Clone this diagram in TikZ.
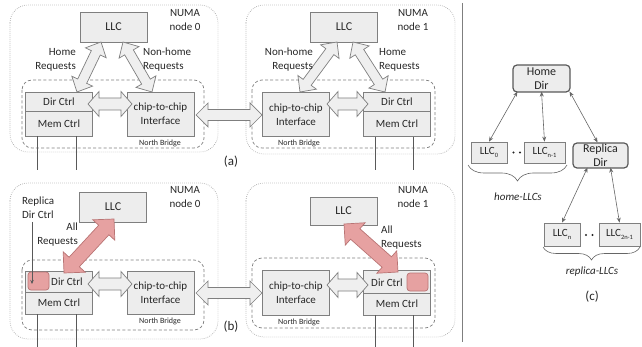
\documentclass[tikz,border=0pt]{standalone}
\usepackage{fontspec}
\setmainfont{Carlito}
\usetikzlibrary{calc,arrows.meta,decorations.pathreplacing}
\definecolor{txtc}{HTML}{262626}
\definecolor{boxfill}{HTML}{EDEDED}
\definecolor{boxdraw}{HTML}{7F7F7F}
\definecolor{arrfill}{HTML}{EFEFEF}
\definecolor{dotc}{HTML}{A6A6A6}
\definecolor{dashc}{HTML}{7F7F7F}
\definecolor{pinkfill}{HTML}{E6A1A1}
\definecolor{pinkdraw}{HTML}{B97474}
\definecolor{vlinec}{HTML}{595959}
\definecolor{carrc}{HTML}{666666}
\definecolor{dirdraw}{HTML}{595959}
\newcommand{\dblarrow}[6]{%
  \coordinate (tmpP) at ($#2!#6!#3$);
  \coordinate (tmpQ) at ($#3!#6!#2$);
  \draw[#1] #2 -- ($(tmpP)!#5!90:#3$) -- ($(tmpP)!#4!90:#3$) -- ($(tmpQ)!#4!-90:#2$) -- ($(tmpQ)!#5!-90:#2$) -- #3 -- ($(tmpQ)!#5!90:#2$) -- ($(tmpQ)!#4!90:#2$) -- ($(tmpP)!#4!-90:#3$) -- ($(tmpP)!#5!-90:#3$) -- cycle;
}
\newcommand{\lsub}[1]{\raisebox{-0.55ex}{\fontsize{6.5}{6.5}\selectfont #1}}
\tikzset{
  txt/.style={font=\fontsize{11}{14}\selectfont, text=txtc, inner sep=0pt},
  box/.style={draw=boxdraw, fill=boxfill, line width=0.7pt, inner sep=0pt, font=\fontsize{11}{14}\selectfont, text=txtc, align=center},
  llcbox/.style={box, minimum width=67pt, font=\fontsize{12}{14}\selectfont},
  dirbox/.style={box, minimum width=67pt, minimum height=19pt},
  membox/.style={box, minimum width=67pt, minimum height=25pt},
  chipbox/.style={box, minimum width=67pt, minimum height=44pt},
  outerbox/.style={draw=dotc, line width=0.7pt, dash pattern=on 0.7pt off 1.3pt, rounded corners=18pt},
  nbbox/.style={draw=dashc, line width=0.7pt, dash pattern=on 3pt off 2.2pt, rounded corners=10pt},
  hollow/.style={draw=boxdraw, fill=arrfill, line width=0.7pt, line join=miter},
  pinkarr/.style={draw=pinkdraw, fill=pinkfill, line width=0.7pt, line join=miter},
  pinksq/.style={draw=pinkdraw, fill=pinkfill, line width=0.7pt, rounded corners=3pt, minimum width=21pt, minimum height=18pt, inner sep=0pt},
  vline/.style={draw=vlinec, line width=0.7pt},
  nb/.style={font=\fontsize{8}{9}\selectfont, text=txtc, inner sep=0pt},
  numa/.style={txt, align=center},
  panel/.style={font=\fontsize{13}{15}\selectfont, text=txtc, inner sep=0pt},
  cllc/.style={box, minimum height=21pt, font=\fontsize{11}{12}\selectfont},
  cdir/.style={box, draw=dirdraw, line width=1.2pt, rounded corners=4pt, font=\fontsize{12}{14}\selectfont},
  carrow/.style={draw=carrc, line width=0.6pt, {Stealth[length=5pt,width=4pt]}-{Stealth[length=5pt,width=4pt]}},
  thinarrow/.style={draw=vlinec, line width=0.6pt, -{Stealth[length=4pt,width=3.5pt]}},
  bracestyle/.style={draw=carrc, line width=0.6pt, decorate},
}
\begin{document}
\begin{tikzpicture}[x=1pt,y=-1pt]
\useasboundingbox (0,0) rectangle (642,347);

% ---------- panel (a) ----------
\draw[outerbox] (10,5) rectangle (218,152);
\draw[outerbox] (246,5) rectangle (455,154);
\draw[nbbox] (22,80) rectangle (204,148);
\draw[nbbox] (252,80) rectangle (435,148);

\node[llcbox, minimum height=30pt] (a0llc) at (113.5,27) {LLC};
\node[llcbox, minimum height=30pt] (a1llc) at (344,27) {LLC};
\node[numa] (a0numa) at (185,20) {NUMA\\node 0};
\node[numa] (a1numa) at (413,20) {NUMA\\node 1};

\node[dirbox] (a0dir) at (59,101.5) {Dir Ctrl};
\node[membox] (a0mem) at (59,123.5) {Mem Ctrl};
\node[chipbox] (a0chip) at (160.5,114) {chip-to-chip\\Interface};
\node[chipbox] (a1chip) at (296,114.5) {chip-to-chip\\Interface};
\node[dirbox] (a1dir) at (397,102) {Dir Ctrl};
\node[membox] (a1mem) at (397,124) {Mem Ctrl};
\node[nb] (a0nb) at (160,143) {North Bridge};
\node[nb] (a1nb) at (299,143) {North Bridge};

\draw[vline] ([xshift=-22pt]a0mem.south) -- ++(0,34);
\draw[vline] ([xshift=17pt]a0mem.south) -- ++(0,34);
\draw[vline] ([xshift=-22pt]a1mem.south) -- ++(0,33);
\draw[vline] ([xshift=16pt]a1mem.south) -- ++(0,33);

\coordinate (a0hA) at (101,42);  \coordinate (a0hB) at (77,92);
\coordinate (a0nA) at (123,42);  \coordinate (a0nB) at (152,92);
\coordinate (a0iA) at (88,104);  \coordinate (a0iB) at (132,104);
\coordinate (aXA) at (196,115);  \coordinate (aXB) at (262,115);
\coordinate (a1nA) at (337,42);  \coordinate (a1nB) at (300,92);
\coordinate (a1hA) at (353,42);  \coordinate (a1hB) at (385,92);
\coordinate (a1iA) at (327,104); \coordinate (a1iB) at (368,104);
\dblarrow{hollow}{(a0hA)}{(a0hB)}{5pt}{11.5pt}{12pt}
\dblarrow{hollow}{(a0nA)}{(a0nB)}{5pt}{11.5pt}{12pt}
\dblarrow{hollow}{(a0iA)}{(a0iB)}{6pt}{12.5pt}{11pt}
\dblarrow{hollow}{(aXA)}{(aXB)}{5.5pt}{12pt}{12pt}
\dblarrow{hollow}{(a1nA)}{(a1nB)}{5pt}{11.5pt}{12pt}
\dblarrow{hollow}{(a1hA)}{(a1hB)}{5pt}{11.5pt}{12pt}
\dblarrow{hollow}{(a1iA)}{(a1iB)}{6pt}{12.5pt}{11pt}

\node[txt, anchor=east, align=right] (a0hl) at (76,60) {Home\\Requests};
\node[txt, anchor=west, align=left] (a0nl) at (143,60) {Non-home\\Requests};
\node[txt, anchor=east, align=right] (a1nl) at (313,60) {Non-home\\Requests};
\node[txt, anchor=west, align=left] (a1hl) at (379,60) {Home\\Requests};
\node[panel] (alab) at (231,162) {(a)};

% ---------- panel (b) ----------
\draw[outerbox] (10,183) rectangle (218,339);
\draw[outerbox] (246,183) rectangle (455,337);
\draw[nbbox] (22,260) rectangle (204,330);
\draw[nbbox] (252,258) rectangle (435,328);

\node[llcbox, minimum height=30pt] (b0llc) at (113,207) {LLC};
\node[llcbox, minimum height=28pt] (b1llc) at (343.5,211) {LLC};
\node[numa] (b0numa) at (185,197.5) {NUMA\\node 0};
\node[numa] (b1numa) at (413,197.5) {NUMA\\node 1};

\node[dirbox, minimum height=21pt] (b0dir) at (59,281.5) {};
\node[txt] (b0dirt) at (67,282) {Dir Ctrl};
\node[membox, minimum height=22pt] (b0mem) at (59,303) {Mem Ctrl};
\node[pinksq] (b0rep) at (38.5,281) {};
\node[chipbox, minimum height=43pt] (b0chip) at (160.5,292.5) {chip-to-chip\\Interface};
\node[chipbox, minimum height=45pt] (b1chip) at (296,292.5) {chip-to-chip\\Interface};
\node[dirbox, minimum height=23pt] (b1dir) at (397,281.5) {};
\node[txt] (b1dirt) at (387,283) {Dir Ctrl};
\node[membox, minimum height=22pt] (b1mem) at (397,304) {Mem Ctrl};
\node[pinksq] (b1rep) at (417.5,282) {};
\node[nb] (b0nb) at (160,321) {North Bridge};
\node[nb] (b1nb) at (299,322) {North Bridge};

\draw[vline] ([xshift=-22pt]b0mem.south) -- (37,347);
\draw[vline] ([xshift=17pt]b0mem.south) -- (76,347);
\draw[vline] ([xshift=-22pt]b1mem.south) -- (375,347);
\draw[vline] ([xshift=16pt]b1mem.south) -- (413,347);

\coordinate (b0pA) at (114,219); \coordinate (b0pB) at (64,273);
\coordinate (b0iA) at (88,284);  \coordinate (b0iB) at (132,284);
\coordinate (bXA) at (196,293);  \coordinate (bXB) at (262,293);
\coordinate (b1pA) at (344,224); \coordinate (b1pB) at (398,272);
\coordinate (b1iA) at (327,285); \coordinate (b1iB) at (368,285);
\dblarrow{pinkarr}{(b0pA)}{(b0pB)}{7pt}{15pt}{15pt}
\dblarrow{hollow}{(b0iA)}{(b0iB)}{6pt}{12.5pt}{11pt}
\dblarrow{hollow}{(bXA)}{(bXB)}{5.5pt}{12pt}{12pt}
\dblarrow{pinkarr}{(b1pA)}{(b1pB)}{7pt}{15pt}{15pt}
\dblarrow{hollow}{(b1iA)}{(b1iB)}{6pt}{12.5pt}{11pt}

\node[txt, anchor=west, align=left] (repl) at (22,208) {Replica\\Dir Ctrl};
\coordinate (replstart) at (32,222);
\draw[thinarrow] (replstart) -- ([xshift=-6.5pt,yshift=-3pt]b0rep.center);
\node[txt, anchor=east, align=right] (b0al) at (78,234.5) {All\\Requests};
\node[txt, anchor=west, align=left] (b1al) at (381,237.5) {All\\Requests};
\node[panel] (blab) at (231,327) {(b)};

% ---------- separator ----------
\draw[draw=boxdraw, line width=0.8pt] (462,3) -- (462,342);

% ---------- panel (c) ----------
\node[cdir, minimum width=57pt, minimum height=27pt] (homedir) at (541.5,78.5) {Home\\Dir};
\node[cdir, minimum width=55pt, minimum height=25pt] (repdir) at (600.5,155.5) {Replica\\Dir};
\node[cllc, minimum width=36pt] (llc0) at (489,152.5) {LLC\lsub{0}};
\node[cllc, minimum width=41pt] (llcn1) at (544.5,152.5) {LLC\lsub{n-1}};
\node[cllc, minimum width=36pt, minimum height=23pt] (llcn) at (562,234.5) {LLC\lsub{n}};
\node[cllc, minimum width=41pt, minimum height=23pt] (llc2n1) at (619.5,234.5) {LLC\lsub{2n-1}};
\fill[txtc] (513.5,152.5) circle (1.1pt) (520,152.5) circle (1.1pt);
\fill[txtc] (586,235) circle (1.1pt) (592.5,235) circle (1.1pt);

\draw[carrow] ([xshift=5pt,yshift=1pt]homedir.south west) -- (llc0.north);
\draw[carrow] ([yshift=1pt]homedir.south) -- (llcn1.north);
\draw[carrow] ([xshift=-1pt,yshift=1pt]homedir.south east) -- ([xshift=-3pt]repdir.north);
\draw[carrow] ([xshift=-13pt,yshift=1pt]repdir.south) -- (llcn.north);
\draw[carrow] ([xshift=10pt,yshift=1pt]repdir.south) -- (llc2n1.north);

\draw[bracestyle, decoration={brace, mirror, amplitude=16pt}] (468,165) -- (567,165);
\draw[bracestyle, decoration={brace, mirror, amplitude=13pt}] (543,247) -- (640,247);
\node[txt, font=\fontsize{11}{13}\selectfont\itshape] (homellcs) at (518,197) {home-LLCs};
\node[txt, font=\fontsize{11}{13}\selectfont\itshape] (repllcs) at (592,272) {replica-LLCs};
\node[panel] (clab) at (592,297) {(c)};
\end{tikzpicture}
\end{document}
